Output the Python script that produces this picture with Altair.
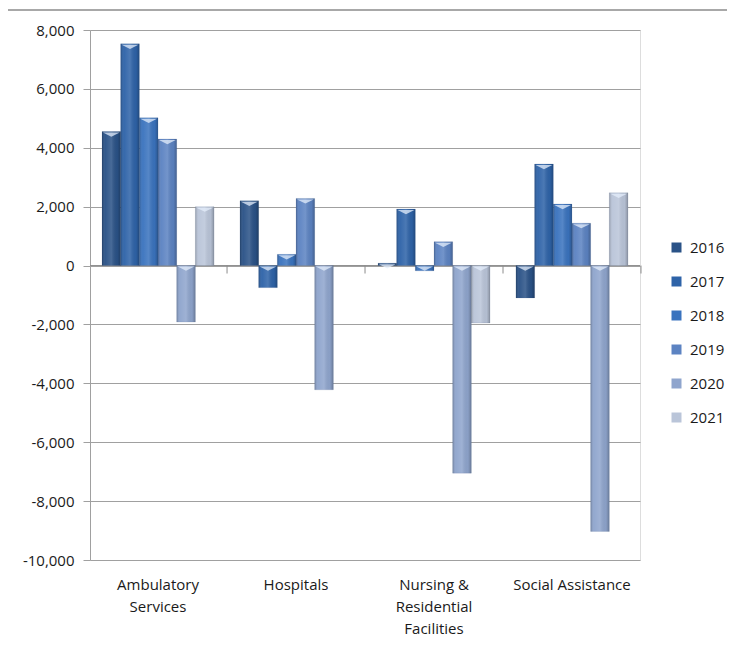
import altair as alt
import pandas as pd

categories = ["Ambulatory Services", "Hospitals", "Nursing & Residential Facilities", "Social Assistance"]
years = ["2016", "2017", "2018", "2019", "2020", "2021"]
v2016 = [4550, 2200, 80, -1100]
v2017 = [7530, -750, 1920, 3450]
v2018 = [5020, 380, -180, 2090]
v2019 = [4300, 2280, 810, 1440]
v2020 = [-1920, -4220, -7050, -9030]
v2021 = [2000, None, -1950, 2470]
colors = ["#2a5287", "#2e63a8", "#3a73be", "#5c83c2", "#8fa5cd", "#bac5d9"]

series = [v2016, v2017, v2018, v2019, v2020, v2021]
rows = []
for y, vals in zip(years, series):
    for c, v in zip(categories, vals):
        if v is not None:
            rows.append({"category": c, "year": y, "value": v})
df = pd.DataFrame(rows)

FONT = "Open Sans"
FS = 15
label_expr = (
    "datum.label == 'Ambulatory Services' ? ['Ambulatory', 'Services'] : "
    "datum.label == 'Nursing & Residential Facilities' ? ['Nursing &', 'Residential', 'Facilities'] : datum.label"
)

xscale = alt.Scale(domain=categories, paddingInner=0.188, paddingOuter=0.087)
yscale = alt.Scale(domain=[-10000, 8000], nice=False)

x_axis = alt.Axis(title=None, labelAngle=0, labelExpr=label_expr, domain=False, ticks=False,
                  labelPadding=17, labelLineHeight=22, labelFont=FONT, labelFontSize=FS,
                  labelColor="#1a1a1a")
y_axis = alt.Axis(title=None, values=list(range(-10000, 8001, 2000)), format=",",
                  labelExpr="replace(format(datum.value, ','), '\u2212', '-')",
                  grid=True, gridColor="#a0a0a0", gridWidth=1, domainColor="#a0a0a0",
                  tickColor="#a0a0a0", tickSize=7, labelPadding=9, labelFont=FONT,
                  labelFontSize=FS, labelColor="#1a1a1a")

x_enc = alt.X("category:N", scale=xscale, sort=categories, axis=x_axis)
xoff = alt.XOffset("year:N", sort=years, scale=alt.Scale(paddingInner=0, paddingOuter=0))

base = alt.Chart(df)

bars = base.mark_bar(stroke="#3d5680", strokeOpacity=0.25, strokeWidth=0.5).encode(
    x=x_enc,
    xOffset=xoff,
    y=alt.Y("value:Q", scale=yscale, axis=y_axis),
    y2=alt.Y2(datum=0),
    color=alt.Color("year:N", sort=years, scale=alt.Scale(domain=years, range=colors),
                    legend=alt.Legend(title=None, orient="none", legendX=579, legendY=210,
                                      symbolType="square", symbolSize=100, symbolStrokeWidth=0,
                                      labelFont=FONT, labelFontSize=FS, labelColor="#1a1a1a",
                                      labelOffset=6, rowPadding=18, padding=0)),
)

shade = base.mark_bar(
    fill=alt.LinearGradient(
        gradient="linear", x1=0, x2=1, y1=0, y2=0,
        stops=[
            alt.GradientStop(offset=0, color="rgba(0,0,0,0.22)"),
            alt.GradientStop(offset=0.18, color="rgba(255,255,255,0.04)"),
            alt.GradientStop(offset=0.5, color="rgba(255,255,255,0.14)"),
            alt.GradientStop(offset=0.82, color="rgba(0,0,0,0.04)"),
            alt.GradientStop(offset=1, color="rgba(0,0,0,0.25)"),
        ],
    )
).encode(
    x=x_enc,
    xOffset=xoff,
    y=alt.Y("value:Q", scale=yscale, axis=y_axis),
    y2=alt.Y2(datum=0),
)

caps = base.transform_calculate(top="max(datum.value, 0)").mark_point(
    shape="M -1 0 L 1 0 L 0 0.5 Z", size=280, filled=True, fill="#e4eefb", fillOpacity=0.75,
    strokeWidth=0, yOffset=1,
).encode(
    x=x_enc,
    xOffset=xoff,
    y=alt.Y("top:Q", scale=yscale, axis=y_axis),
)

zero = alt.Chart(pd.DataFrame({"z": [0]})).mark_rule(color="#8c8c8c", strokeWidth=1).encode(
    y=alt.Y("z:Q", scale=yscale, axis=y_axis)
)

cat_ticks = alt.Chart(pd.DataFrame({"category": categories})).mark_rule(
    color="#8c8c8c", strokeWidth=1, xOffset=13
).encode(
    x=alt.X("category:N", scale=xscale, sort=categories, bandPosition=1, axis=x_axis),
    y=alt.Y(datum=0, scale=yscale, axis=y_axis),
    y2=alt.Y2(datum=-270),
)

frame = alt.Chart(pd.DataFrame({"f": [0]})).mark_rule(color="#a8a8a8", strokeWidth=2).encode(
    x=alt.value(-90), x2=alt.value(650), y=alt.value(-20)
)

chart = alt.layer(zero, bars, shade, caps, cat_ticks, frame).properties(
    width=550, height=530,
    autosize=alt.AutoSizeParams(type="none"),
    padding={"left": 82, "top": 22, "right": 87, "bottom": 81},
).configure_view(stroke=None).configure_axisY(format=",").configure(background="#ffffff")

chart.save("out.html", embed_options={"renderer": "svg", "actions": False})
